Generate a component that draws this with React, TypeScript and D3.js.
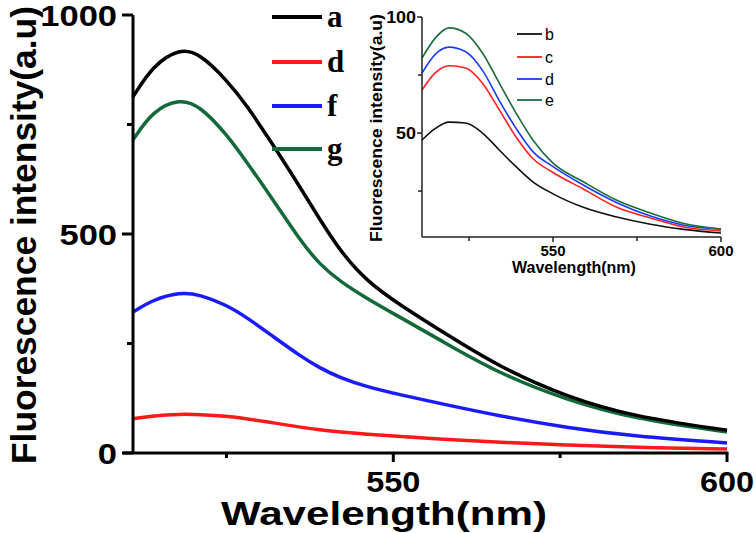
import React from "react";
import * as d3 from "d3";

// main plot: wavelengths (nm) and intensities
const mainWavelengths = [511, 514, 518, 521, 525, 528, 532, 536, 539, 542, 546, 551, 557, 566, 576, 586, 600];
const seriesA = [813, 885, 924, 912, 852, 795, 703, 608, 533, 462, 392, 338, 280, 195, 128, 83, 52];
const seriesD = [78, 85, 89, 88, 84, 78, 69, 59, 53, 48, 43, 38, 32, 24, 18, 13, 9];
const seriesF = [322, 350, 367, 362, 338, 310, 266, 222, 194, 172, 151, 133, 113, 84, 58, 38, 23];
const seriesG = [715, 782, 809, 793, 728, 665, 578, 486, 430, 392, 353, 310, 258, 180, 121, 78, 48];
const mainLabels = ["a", "d", "f", "g"];
const mainColors = ["#000000", "#ff1a1a", "#1a1aff", "#14693a"];
const mainYTicks = [0, 500, 1000];
const mainYMinor = [250, 750];
const xTicks = [550, 600];
const xMinor = [525, 575];

// inset
const insetWavelengths = [511, 515, 519, 524, 529, 534, 539, 544, 550, 559, 569, 579, 589, 600];
const insetB = [47, 52, 54.7, 54.3, 50, 42.7, 35.5, 29, 23.8, 18, 13.8, 10.7, 8.5, 6.9];
const insetC = [68.5, 76, 79, 78, 71.5, 60, 48.3, 39, 33, 25.9, 18, 13.4, 9.5, 7.8];
const insetD = [75.8, 84, 87, 85, 77, 64, 52, 42, 35.5, 27.6, 20, 14.2, 10.3, 8.6];
const insetE = [82.3, 91, 95.3, 93, 84.5, 71.5, 58.6, 47, 37, 29, 21, 15.5, 11, 8.6];
const insetLabels = ["b", "c", "d", "e"];
const insetColors = ["#111111", "#ff2020", "#1a3cff", "#1a6b3a"];
const insetYTicks = [50, 100];
const insetYMinor = [25, 75];

const sans = "'Liberation Sans', Arial, sans-serif";
const serif = "'Liberation Serif', 'Times New Roman', serif";

export default function App() {
  const x = d3.scaleLinear().domain([511, 600]).range([133, 727]);
  const y = d3.scaleLinear().domain([0, 1000]).range([453, 15]);
  const line = d3
    .line<[number, number]>()
    .x((d) => x(d[0]))
    .y((d) => y(d[1]))
    .curve(d3.curveBasis);

  const ix = d3.scaleLinear().domain([511, 600]).range([422, 721]);
  const iy = d3.scaleLinear().domain([5.2, 100]).range([237, 17]);
  const iline = d3
    .line<[number, number]>()
    .x((d) => ix(d[0]))
    .y((d) => iy(d[1]))
    .curve(d3.curveMonotoneX);

  const mainSeries = [seriesA, seriesD, seriesF, seriesG];
  const insetSeries = [insetB, insetC, insetD, insetE];
  const zip = (xs: number[], ys: number[]) => xs.map((v, i) => [v, ys[i]] as [number, number]);

  // draw order: d, f, g, a so black sits on top
  const drawOrder = [1, 2, 3, 0];

  return (
    <svg
      width={756}
      height={533}
      style={{ position: "absolute", left: 0, top: 0, background: "#fff" }}
    >
      {/* main curves */}
      {drawOrder.map((i) => (
        <path
          key={mainLabels[i]}
          d={line(zip(mainWavelengths, mainSeries[i])) || ""}
          fill="none"
          stroke={mainColors[i]}
          strokeWidth={3.5}
        />
      ))}

      {/* main axes */}
      <line x1={133} x2={133} y1={y(1000)} y2={y(0)} stroke="#000" strokeWidth={3} />
      <line x1={123} x2={x(600) + 1.5} y1={y(0)} y2={y(0)} stroke="#000" strokeWidth={3} />
      {mainYTicks.map((t) => (
        <g key={"my" + t}>
          <line x1={122} x2={133} y1={y(t)} y2={y(t)} stroke="#000" strokeWidth={3} />
          <text
            transform={`translate(117,${y(t) + 11}) scale(1.15,1)`}
            textAnchor="end"
            fontFamily={sans}
            fontWeight="bold"
            fontSize={30}
          >
            {t}
          </text>
        </g>
      ))}
      {mainYMinor.map((t) => (
        <line key={"mym" + t} x1={127} x2={133} y1={y(t)} y2={y(t)} stroke="#000" strokeWidth={3} />
      ))}
      {xTicks.map((t) => (
        <g key={"mx" + t}>
          <line x1={x(t)} x2={x(t)} y1={y(0)} y2={y(0) + 9} stroke="#000" strokeWidth={3} />
          <text
            transform={`translate(${x(t)},492) scale(1.12,1)`}
            textAnchor="middle"
            fontFamily={sans}
            fontWeight="bold"
            fontSize={29}
          >
            {t}
          </text>
        </g>
      ))}
      {xMinor.map((t) => (
        <line key={"mxm" + t} x1={x(t)} x2={x(t)} y1={y(0)} y2={y(0) + 5} stroke="#000" strokeWidth={3} />
      ))}
      <text
        x={384}
        y={525}
        textAnchor="middle"
        fontFamily={sans}
        fontWeight="bold"
        fontSize={34}
        textLength={326}
        lengthAdjust="spacingAndGlyphs"
      >
        Wavelength(nm)
      </text>
      <text
        transform="translate(36,235) rotate(-90)"
        textAnchor="middle"
        fontFamily={sans}
        fontWeight="bold"
        fontSize={35}
        textLength={458}
        lengthAdjust="spacingAndGlyphs"
      >
        Fluorescence intensity(a.u)
      </text>

      {/* main legend */}
      {mainLabels.map((lab, i) => {
        const ly = [17, 62, 106, 149][i];
        return (
          <g key={"leg" + lab}>
            <line x1={272} x2={322} y1={ly} y2={ly} stroke={mainColors[i]} strokeWidth={4} />
            <text x={327} y={ly + 10} fontFamily={serif} fontWeight="bold" fontSize={31}>
              {lab}
            </text>
          </g>
        );
      })}

      {/* inset curves */}
      {insetSeries.map((s, i) => (
        <path
          key={"in" + insetLabels[i]}
          d={iline(zip(insetWavelengths, s)) || ""}
          fill="none"
          stroke={insetColors[i]}
          strokeWidth={1.6}
        />
      ))}

      {/* inset axes */}
      <line x1={422} x2={422} y1={iy(100)} y2={iy(5.2)} stroke="#222" strokeWidth={1.5} />
      <line x1={422} x2={ix(600)} y1={iy(5.2)} y2={iy(5.2)} stroke="#222" strokeWidth={1.5} />
      {insetYTicks.map((t) => (
        <g key={"iy" + t}>
          <line x1={417} x2={422} y1={iy(t)} y2={iy(t)} stroke="#222" strokeWidth={1.5} />
          <text
            transform={`translate(416,${iy(t) + 6}) scale(1.12,1)`}
            textAnchor="end"
            fontFamily={sans}
            fontWeight="bold"
            fontSize={16}
          >
            {t}
          </text>
        </g>
      ))}
      {insetYMinor.map((t) => (
        <line key={"iym" + t} x1={418} x2={422} y1={iy(t)} y2={iy(t)} stroke="#222" strokeWidth={1.5} />
      ))}
      {xTicks.map((t) => (
        <g key={"ix" + t}>
          <line x1={ix(t)} x2={ix(t)} y1={237} y2={242} stroke="#222" strokeWidth={1.5} />
          <text
            x={ix(t)}
            y={256}
            textAnchor="middle"
            fontFamily={sans}
            fontWeight="bold"
            fontSize={15}
          >
            {t}
          </text>
        </g>
      ))}
      {xMinor.map((t) => (
        <line key={"ixm" + t} x1={ix(t)} x2={ix(t)} y1={237} y2={241} stroke="#222" strokeWidth={1.5} />
      ))}
      <text x={574} y={273} textAnchor="middle" fontFamily={sans} fontWeight="bold" fontSize={16}>
        Wavelength(nm)
      </text>
      <text
        transform="translate(382,128) rotate(-90)"
        textAnchor="middle"
        fontFamily={sans}
        fontWeight="bold"
        fontSize={17}
        textLength={228}
        lengthAdjust="spacingAndGlyphs"
      >
        Fluorescence intensity(a.u)
      </text>

      {/* inset legend */}
      {insetLabels.map((lab, i) => {
        const ly = [34, 57, 79, 100][i];
        return (
          <g key={"ileg" + lab}>
            <line x1={517} x2={542} y1={ly} y2={ly} stroke={insetColors[i]} strokeWidth={1.8} />
            <text x={545} y={ly + 5.5} fontFamily={sans} fontSize={16}>
              {lab}
            </text>
          </g>
        );
      })}
    </svg>
  );
}
